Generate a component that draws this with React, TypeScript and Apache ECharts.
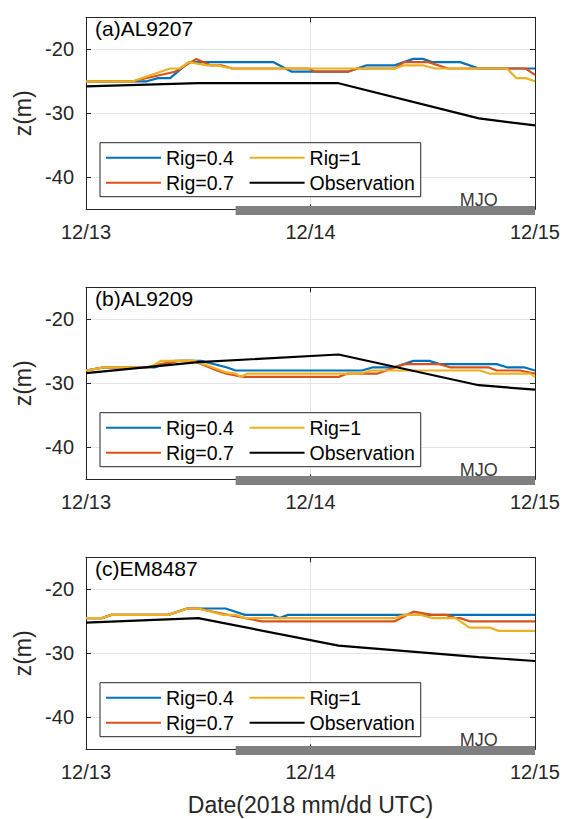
import React, { useEffect, useRef } from 'react';
import * as echarts from 'echarts';

// ---------- data ----------
const xTickLabels = ['12/13', '12/14', '12/15'];
const yTicks = [-40, -30, -20];
const panelTitles = ['(a)AL9207', '(b)AL9209', '(c)EM8487'];
const seriesNames = ['Rig=0.4', 'Rig=0.7', 'Rig=1', 'Observation'];
const legendOrder = ['Rig=0.4', 'Rig=1', 'Rig=0.7', 'Observation'];
const firstColumnNames = ['Rig=0.4', 'Rig=0.7'];

// [hours since 12/13 00UTC, z (m)]
const rig04A = [[0, -25], [6.5, -25], [7.7, -24.5], [9, -24.5], [11, -22], [20, -22], [22, -23.5], [28, -23.5], [29, -23], [30, -22.5], [33, -22.5], [35, -21.5], [36, -21.5], [37, -22], [40, -22], [42, -23], [48, -23]];
const rig07A = [[0, -25], [5, -25], [9.5, -23.5], [11.8, -21.5], [13.3, -22.5], [14.5, -22.5], [15.6, -23], [23.8, -23], [24.5, -23.5], [28, -23.5], [29, -23], [33, -23], [34, -22], [36.6, -22], [38.7, -23], [47, -23], [48, -24]];
const rig1A = [[0, -25], [5, -25], [9, -23], [10, -23], [11, -22], [13, -22.5], [14, -22.5], [15.6, -23], [33, -23], [34, -22.5], [36, -22.5], [37.3, -23], [45, -23], [46, -24.5], [47, -24.5], [48, -25]];
const obsA = [[0, -25.8], [12, -25.3], [27, -25.3], [42, -30.8], [48, -31.9]];

const rig04B = [[0, -28], [1.9, -27.5], [7.4, -27.5], [9.5, -26.5], [12.3, -26.5], [15, -27.5], [16, -28], [29.5, -28], [30.7, -27.5], [33, -27.5], [34, -27], [35, -26.5], [36.7, -26.5], [37.8, -27], [43.9, -27], [45, -27.5], [46.8, -27.5], [48, -28]];
const rig07B = [[0, -28], [1.9, -27.5], [6.5, -27.5], [8, -27], [10, -26.5], [11.5, -26.5], [14, -28], [15, -28.5], [16.8, -29], [27, -29], [27.9, -28.5], [31.1, -28.5], [34, -27], [37.8, -27], [38.9, -27.5], [43, -27.5], [43.9, -28], [46.4, -28], [48, -28.5]];
const rig1B = [[0, -28], [1.9, -27.5], [6.9, -27.5], [8, -26.5], [11.6, -26.5], [13.5, -27.5], [15, -28.3], [16, -28.5], [16.6, -29], [17.2, -28.5], [29.3, -28.5], [30.5, -28], [42.1, -28], [43.2, -28.5], [47.5, -28.5], [48, -29]];
const obsB = [[0, -28.4], [12, -26.7], [27, -25.5], [42, -30.3], [48, -31.0]];

const rig04C = [[0, -24.5], [1.7, -24.5], [2.7, -24], [8.8, -24], [10.8, -23], [14.9, -23], [17, -24], [20, -24], [20.7, -24.5], [21.6, -24], [48, -24]];
const rig07C = [[0, -24.5], [1.7, -24.5], [2.7, -24], [8.8, -24], [10.8, -23], [12, -23], [14.5, -23.8], [18.8, -25], [33, -25], [35, -23.5], [37, -24], [38.5, -24], [39.5, -24.5], [40, -24.5], [41, -25], [48, -25]];
const rig1C = [[0, -24.5], [1.7, -24.5], [2.7, -24], [8.8, -24], [10.8, -23], [12, -23], [14.7, -24], [16, -24], [17, -24.5], [33, -24.5], [34.1, -24], [35.8, -24], [37.1, -24.5], [39.5, -24.5], [41, -26], [43.2, -26], [44.1, -26.5], [48, -26.5]];
const obsC = [[0, -25.2], [12, -24.5], [27, -28.8], [42, -30.6], [48, -31.2]];

const panelData = [
  [rig04A, rig07A, rig1A, obsA],
  [rig04B, rig07B, rig1B, obsB],
  [rig04C, rig07C, rig1C, obsC],
];

const mjoPeriod = [16, 48];
const mjoBarLevel = -45.2;
const mjoLabelAt = [42, -43.6];
const mjoLabel = 'MJO';
const xRange = [0, 48];
const yRange = [-45, -15];

// ---------- styles ----------
const colors = ['#0072BD', '#D95319', '#EDB120', '#000000'];
const FONT = '"Liberation Sans", Arial, Helvetica, sans-serif';
const AXIS = '#262626';
const GRIDC = '#e4e4e4';
const gridLeft = 86;
const gridWidth = 449;
const gridTop0 = 17.3;
const gridHeight = 192;
const panelStep = 270;

export default function App() {
  const ref = useRef<HTMLDivElement>(null);

  useEffect(() => {
    document.body.style.margin = '0';
    const chart = echarts.init(ref.current!, null, { renderer: 'svg' });

    const grid: any[] = [];
    const xAxis: any[] = [];
    const yAxis: any[] = [];
    const series: any[] = [];
    const legend: any[] = [];
    const title: any[] = [];

    for (let p = 0; p < 3; p++) {
      const top = gridTop0 + p * panelStep;
      grid.push({ left: gridLeft, width: gridWidth, top, height: gridHeight, containLabel: false });

      const common = {
        gridIndex: p,
        type: 'value',
        min: xRange[0],
        max: xRange[1],
        interval: 24,
        axisLine: { show: true, onZero: false, lineStyle: { color: AXIS, width: 1 } },
        axisTick: { show: true, inside: true, length: 5, lineStyle: { color: AXIS } },
      };
      xAxis.push({
        ...common,
        position: 'bottom',
        axisLabel: {
          show: true,
          formatter: (v: number) => xTickLabels[Math.round(v / 24)],
          fontSize: 20,
          color: AXIS,
          margin: 13,
          fontFamily: FONT,
        },
        splitLine: { show: true, lineStyle: { color: GRIDC, width: 1 } },
        ...(p === 2
          ? {
              name: 'Date(2018 mm/dd UTC)',
              nameLocation: 'middle',
              nameGap: 44,
              nameTextStyle: { fontSize: 23, color: AXIS, fontFamily: FONT },
            }
          : {}),
      });
      xAxis.push({
        ...common,
        position: 'top',
        axisLabel: { show: false },
        splitLine: { show: false },
      });

      const ycommon = {
        gridIndex: p,
        type: 'value',
        min: yRange[0],
        max: yRange[1],
        axisLine: { show: true, onZero: false, lineStyle: { color: AXIS, width: 1 } },
        axisTick: { show: true, inside: true, length: 5, customValues: yTicks, lineStyle: { color: AXIS } },
      };
      yAxis.push({
        ...ycommon,
        position: 'left',
        axisLabel: { show: true, customValues: yTicks, fontSize: 20, color: AXIS, margin: 12, fontFamily: FONT },
        splitLine: { show: true, lineStyle: { color: GRIDC, width: 1 } },
        name: 'z(m)',
        nameLocation: 'middle',
        nameGap: 50,
        nameTextStyle: { fontSize: 23, color: AXIS, fontFamily: FONT },
      });
      yAxis.push({
        ...ycommon,
        position: 'right',
        axisLabel: { show: false },
        splitLine: { show: false },
      });

      panelData[p].forEach((d, k) => {
        series.push({
          type: 'line',
          name: seriesNames[k],
          xAxisIndex: p * 2,
          yAxisIndex: p * 2,
          data: d,
          symbol: 'none',
          showSymbol: false,
          color: colors[k],
          itemStyle: { color: colors[k] },
          lineStyle: { color: colors[k], width: 2.2 },
          z: 3 + k,
          silent: true,
        });
      });

      series.push({
        type: 'line',
        name: 'MJO period',
        xAxisIndex: p * 2,
        yAxisIndex: p * 2,
        data: [[mjoPeriod[0], mjoBarLevel], [mjoPeriod[1], mjoBarLevel]],
        symbol: 'none',
        clip: false,
        lineStyle: { color: '#808080', width: 9, cap: 'butt' },
        z: 10,
        silent: true,
      });
      series.push({
        type: 'scatter',
        name: 'MJO label',
        xAxisIndex: p * 2,
        yAxisIndex: p * 2,
        data: [mjoLabelAt],
        symbolSize: 0,
        label: {
          show: true,
          position: 'inside',
          formatter: mjoLabel,
          fontSize: 18,
          color: '#000',
          fontFamily: FONT,
        },
        z: 10,
        silent: true,
      });

      legend.push({
        left: 100,
        top: 142.7 + p * panelStep,
        width: 330,
        orient: 'horizontal',
        data: legendOrder,
        formatter: (name: string) => (firstColumnNames.includes(name) ? name + '\u00a0\u00a0' : name),
        icon: 'rect',
        itemWidth: 55,
        itemHeight: 2,
        itemGap: 5,
        padding: [5, 6, 4, 6],
        borderColor: AXIS,
        borderWidth: 1,
        borderRadius: 0,
        backgroundColor: '#ffffff',
        selectedMode: false,
        textStyle: { fontSize: 19.5, color: '#000', fontFamily: FONT },
      });

      title.push({
        text: panelTitles[p],
        left: 95,
        top: 18 + p * panelStep,
        padding: 0,
        textStyle: { fontSize: 21, fontWeight: 'normal', color: '#000', fontFamily: FONT },
      });
    }

    chart.setOption({
      animation: false,
      backgroundColor: '#ffffff',
      title,
      legend,
      grid,
      xAxis,
      yAxis,
      series,
    });

    return () => chart.dispose();
  }, []);

  return <div ref={ref} style={{ width: 563, height: 819 }} />;
}
